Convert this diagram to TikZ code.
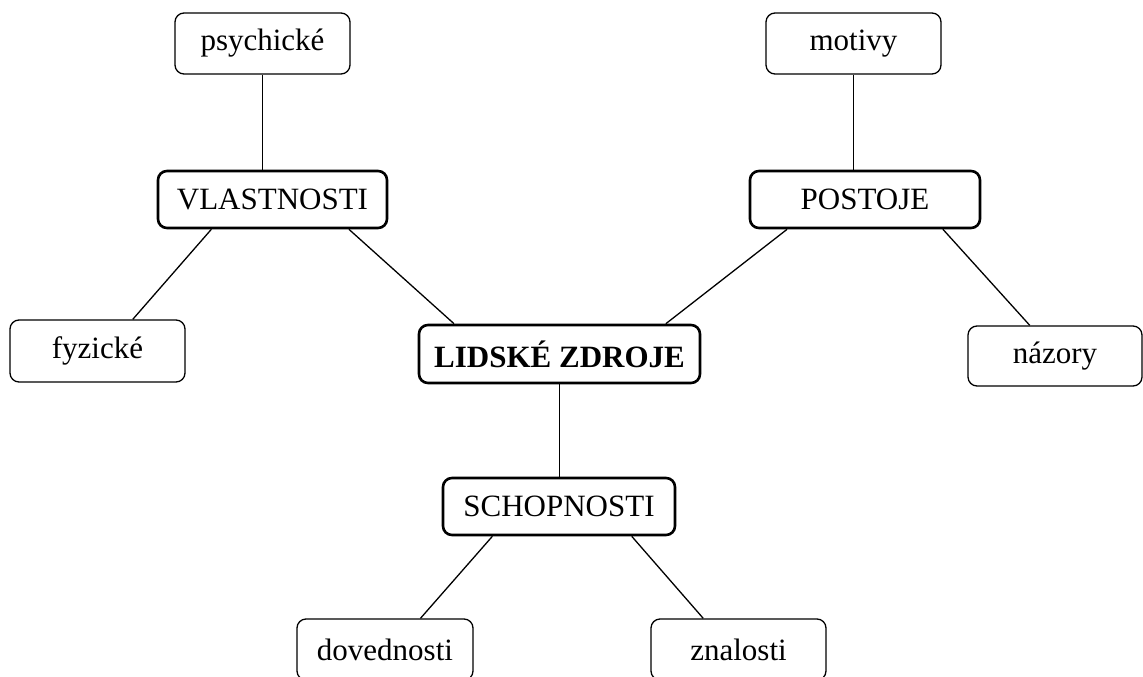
\documentclass[tikz,border=0pt]{standalone}
\usepackage{fontspec}
\setmainfont{Liberation Serif}
\usetikzlibrary{calc}
\begin{document}
\begin{tikzpicture}[x=1pt,y=-1pt,
  box/.style={draw, rounded corners=9pt, line width=1.3pt, inner sep=0pt,
    minimum width=175pt, minimum height=61pt, font=\fontsize{31}{37}\selectfont},
  mainbox/.style={box, line width=2.6pt, minimum height=57pt},
  conn/.style={line width=1.3pt}]
\clip (0,0) rectangle (1143,677);
\fill[white] (0,0) rectangle (1143,677);
\node[box] (psy) at (262.5,43.5) {psychické};
\node[box] (mot) at (853.5,43.5) {motivy};
\node[mainbox, minimum width=229pt] (vl) at (272.5,199.5) {VLASTNOSTI};
\node[mainbox, minimum width=230pt] (po) at (865,199.5) {POSTOJE};
\node[box, minimum height=62pt] (fyz) at (97.5,351) {fyzické};
\node[mainbox, minimum width=281pt, minimum height=58pt, font=\fontsize{31}{37}\selectfont\bfseries] (lid) at (559.5,354) {LIDSKÉ ZDROJE};
\node[box, minimum width=174pt, minimum height=60pt] (naz) at (1055,356) {názory};
\node[mainbox, minimum width=232pt] (sch) at (559,506.5) {SCHOPNOSTI};
\node[box, minimum width=176pt] (dov) at (385,649.5) {dovednosti};
\node[box] (zna) at (738.5,649.5) {znalosti};
\draw[conn] (psy.south) -- (psy.south |- vl.north);
\draw[conn] (mot.south) -- (mot.south |- po.north);
\draw[conn] ($(vl.south west)!0.236!(vl.south east)$) -- ($(fyz.north west)!0.70!(fyz.north east)$);
\draw[conn] ($(vl.south west)!0.83!(vl.south east)$) -- ($(lid.north west)!0.128!(lid.north east)$);
\draw[conn] ($(po.south west)!0.165!(po.south east)$) -- ($(lid.north west)!0.875!(lid.north east)$);
\draw[conn] ($(po.south west)!0.835!(po.south east)$) -- ($(naz.north west)!0.356!(naz.north east)$);
\draw[conn] (lid.south) -- (lid.south |- sch.north);
\draw[conn] ($(sch.south west)!0.216!(sch.south east)$) -- ($(dov.north west)!0.70!(dov.north east)$);
\draw[conn] ($(sch.south west)!0.81!(sch.south east)$) -- ($(zna.north west)!0.30!(zna.north east)$);
\end{tikzpicture}
\end{document}
